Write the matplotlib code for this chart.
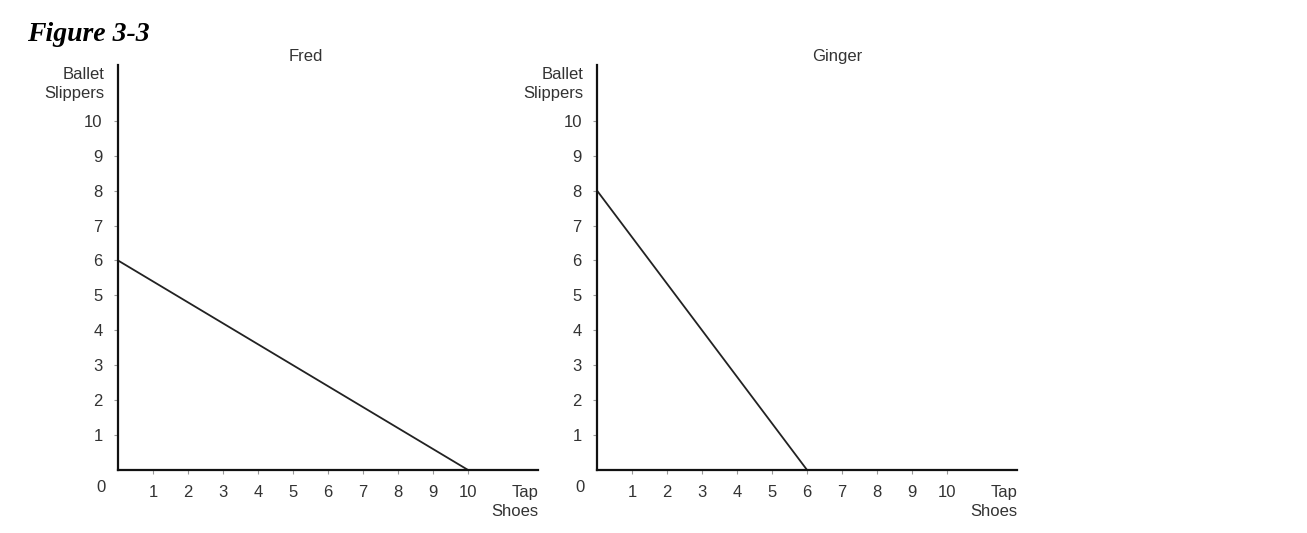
import matplotlib.pyplot as plt

# --- Data ---
people = ['Fred', 'Ginger']
tap_shoes_max = [10, 6]        # x-intercepts
ballet_slippers_max = [6, 8]   # y-intercepts
ticks = list(range(1, 11))
title_x = [5.37, 6.87]         # where the panel titles sit (data units)

plt.rcParams['font.family'] = ['Liberation Sans', 'DejaVu Sans']

fig = plt.figure(figsize=(13.07, 5.33), dpi=100)
fig.text(0.021, 0.935, 'Figure 3-3', family='Liberation Serif', weight='bold',
         style='italic', fontsize=20, ha='left', va='center')

lefts = [0.0903, 0.4568]
for i, name in enumerate(people):
    ax = fig.add_axes([lefts[i], 0.1182, 0.3214, 0.760])
    ax.plot([0, tap_shoes_max[i]], [ballet_slippers_max[i], 0], color='#222222', lw=1.3,
            solid_capstyle='butt')
    ax.set_xlim(0, 12)
    ax.set_ylim(0, 11.6)
    for s in ['top', 'right']:
        ax.spines[s].set_visible(False)
    for s in ['left', 'bottom']:
        ax.spines[s].set_linewidth(1.6)
        ax.spines[s].set_color('#111111')
    ax.set_xticks(ticks)
    ax.set_yticks(ticks)
    ax.tick_params(axis='both', length=3, width=0.8, color='#999999',
                   labelsize=12, labelcolor='#333333')
    ax.tick_params(axis='x', pad=8)
    ax.tick_params(axis='y', pad=8)
    ax.text(title_x[i], 11.85, name, ha='center', va='center', fontsize=12,
            color='#333333', clip_on=False)
    ax.text(-0.4, 11.05, 'Ballet\nSlippers', ha='right', va='center', fontsize=12,
            color='#333333', linespacing=1.3, clip_on=False)
    ax.text(12, -0.92, 'Tap\nShoes', ha='right', va='center', fontsize=12,
            color='#333333', linespacing=1.3, clip_on=False)
    ax.text(-0.5, -0.5, '0', ha='center', va='center', fontsize=12,
            color='#333333', clip_on=False)

fig.savefig('out.png', dpi=100)
